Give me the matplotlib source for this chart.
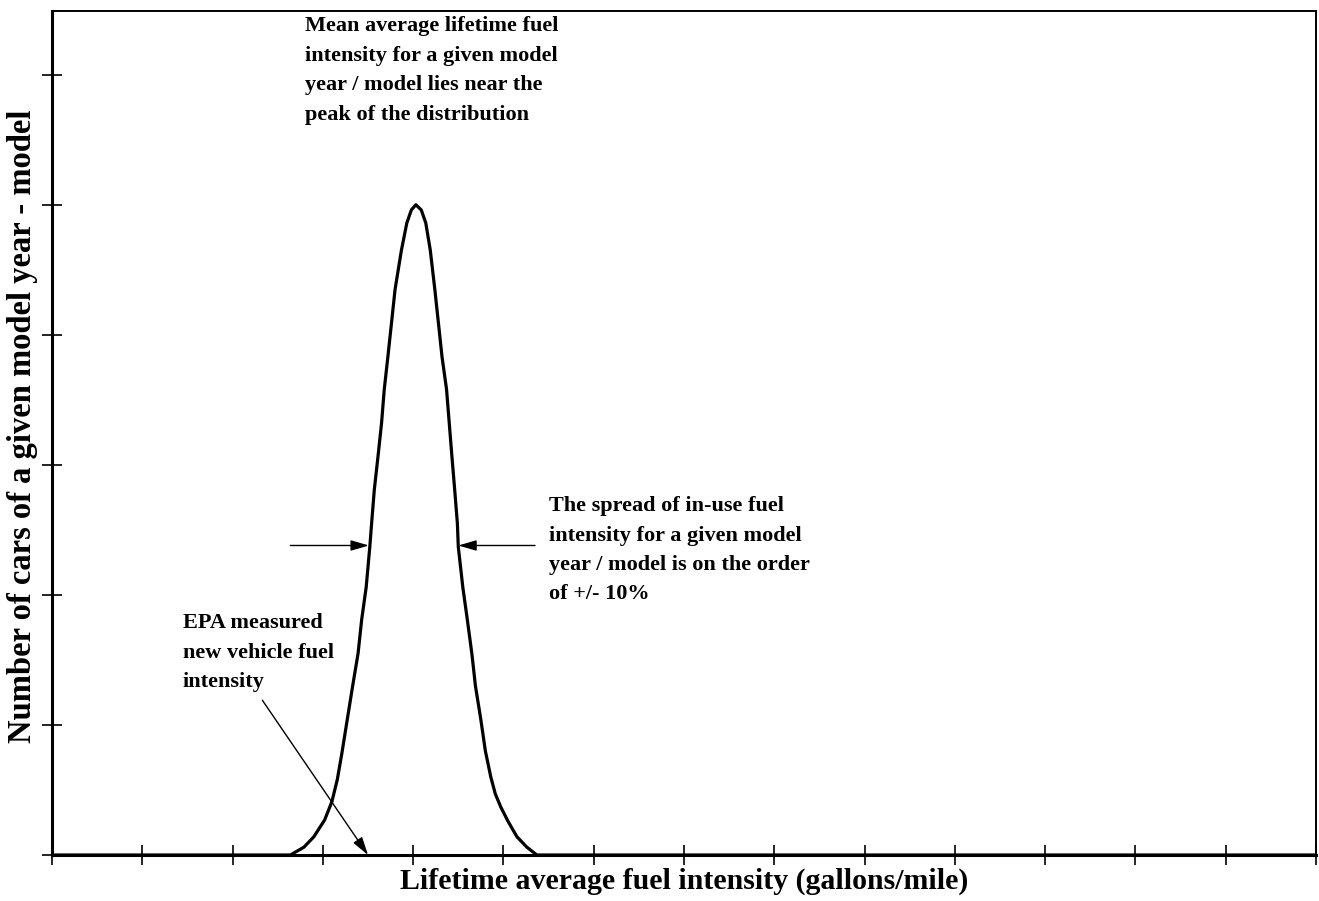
import matplotlib.pyplot as plt

plt.rcParams.update({
    "font.family": "Liberation Serif",
    "font.weight": "bold",
})

# curve (x and y in tick units)
curve_x = [0.0, 2.64, 2.79, 2.90, 3.02, 3.10, 3.16, 3.21, 3.27, 3.33, 3.39,
           3.43, 3.48, 3.52, 3.54, 3.57, 3.61, 3.65, 3.68, 3.72, 3.76, 3.80,
           3.87, 3.93, 3.98, 4.03,
           4.09, 4.14, 4.19, 4.24, 4.28, 4.32, 4.37, 4.40, 4.43, 4.46, 4.49,
           4.50, 4.55, 4.60, 4.65, 4.69, 4.75, 4.80, 4.86, 4.91, 4.97, 5.05,
           5.15, 5.26, 5.37, 14.0]
curve_y = [0.0, 0.0, 0.06, 0.14, 0.27, 0.41, 0.58, 0.78, 1.04, 1.30, 1.55,
           1.81, 2.06, 2.37, 2.55, 2.81, 3.06, 3.32, 3.58, 3.83, 4.09, 4.35,
           4.65, 4.86, 4.96, 5.0,
           4.96, 4.86, 4.65, 4.35, 4.09, 3.83, 3.58, 3.32, 3.06, 2.81, 2.55,
           2.37, 2.06, 1.81, 1.55, 1.30, 1.04, 0.80, 0.60, 0.47, 0.37, 0.26,
           0.14, 0.06, 0.0, 0.0]

x_ticks = list(range(0, 15))
y_ticks = list(range(0, 7))

mean_note = ("Mean average lifetime fuel\nintensity for a given model\n"
             "year / model lies near the\npeak of the distribution")
spread_note = ("The spread of in-use fuel\nintensity for a given model\n"
               "year / model is on the order\nof +/- 10%")
epa_note = "EPA measured\nnew vehicle fuel\nintensity"

fig = plt.figure(figsize=(13.19, 9.01), dpi=100)
ax = fig.add_axes([52 / 1319, 46 / 901, 1264 / 1319, 844 / 901])

ax.plot(curve_x, curve_y, '-', color='black', lw=2.3, solid_joinstyle='round')

ax.set_xlim(0, 14)
ax.set_ylim(0, 6.49)
ax.set_xticks(x_ticks)
ax.set_yticks(y_ticks)
ax.set_xticklabels([])
ax.set_yticklabels([])
ax.tick_params(axis='both', direction='inout', length=15, width=1.2,
               color='black')

for side in ['left', 'bottom']:
    ax.spines[side].set_linewidth(2.2)
for side in ['top', 'right']:
    ax.spines[side].set_linewidth(1.4)

ax.set_xlabel('Lifetime average fuel intensity (gallons/mile)',
              fontsize=21.5, fontweight='bold')
ax.xaxis.set_label_coords(0.5, -0.015)
ax.xaxis.label.set_va('top')
ax.set_ylabel('Number of cars of a given model year - model',
              fontsize=23.5, fontweight='bold')
ax.yaxis.set_label_coords(-0.023, 0.508)
ax.yaxis.label.set_va('center')

note_style = dict(ha='left', va='top', fontsize=16, fontweight='bold',
                  linespacing=1.63)
ax.text(2.80, 6.45, mean_note, **note_style)
ax.text(5.50, 2.76, spread_note, **note_style)
ax.text(1.45, 1.86, epa_note, **note_style)

arrow = dict(arrowstyle='-|>,head_length=0.55,head_width=0.16', color='black',
             lw=1.0, mutation_scale=20, shrinkA=0, shrinkB=0)
ax.annotate('', xy=(3.51, 2.38), xytext=(2.64, 2.38), arrowprops=arrow)
ax.annotate('', xy=(4.50, 2.38), xytext=(5.35, 2.38), arrowprops=arrow)
ax.annotate('', xy=(3.50, 0.0), xytext=(2.33, 1.19), arrowprops=arrow)

plt.savefig('out.png', dpi=100)
